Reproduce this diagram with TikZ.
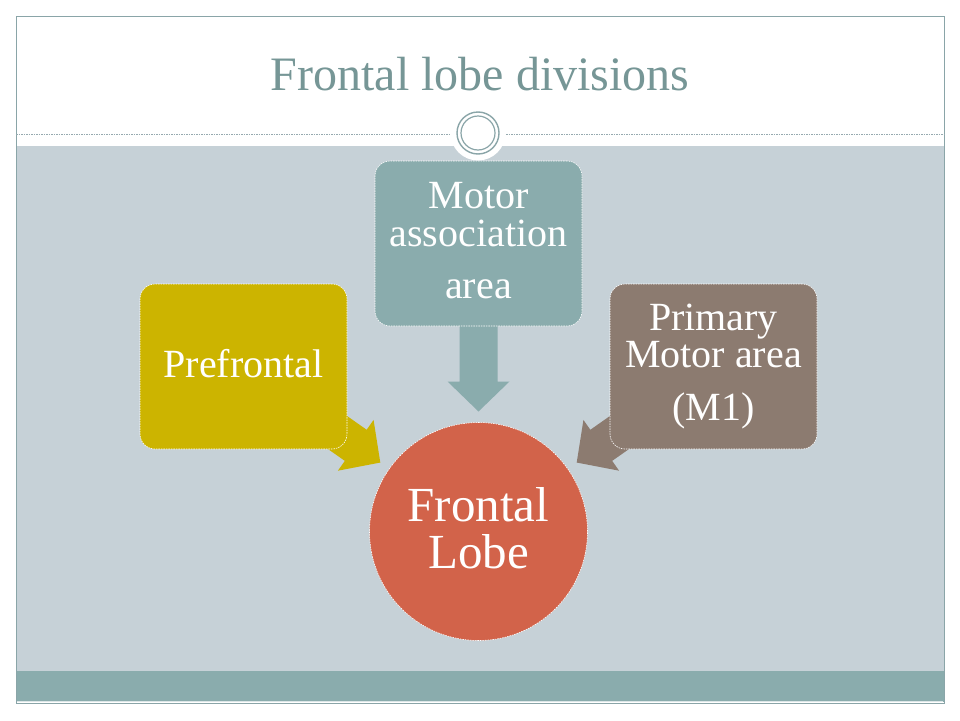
\documentclass[tikz,border=0pt]{standalone}
\usepackage{fontspec}
\setmainfont{Liberation Serif}
\usetikzlibrary{calc}
\definecolor{framec}{RGB}{138,165,168}
\definecolor{bandc}{RGB}{198,209,215}
\definecolor{tealc}{RGB}{138,172,173}
\definecolor{titlec}{RGB}{118,150,150}
\definecolor{mustc}{RGB}{204,180,0}
\definecolor{brownc}{RGB}{140,123,112}
\definecolor{redc}{RGB}{210,99,74}
\definecolor{dashc}{RGB}{150,170,175}
\pgfdeclarelayer{bg}
\pgfdeclarelayer{arr}
\pgfsetlayers{bg,arr,main}
\newcommand\fatarr[3]{%
  \coordinate (#1T) at ($(#2.center)!120pt!(#1.center)$);
  \coordinate (#1H) at ($(#1T)!30pt!(#1.center)$);
  \begin{pgfonlayer}{arr}
  \fill[#3] ($(#1.center)!19pt!90:(#1T)$) -- ($(#1H)!19pt!90:(#1T)$)
    -- ($(#1H)!31pt!90:(#1T)$) -- (#1T) -- ($(#1H)!31pt!-90:(#1T)$)
    -- ($(#1H)!19pt!-90:(#1T)$) -- ($(#1.center)!19pt!-90:(#1T)$) -- cycle;
  \end{pgfonlayer}}
\tikzset{
  boxs/.style={rounded corners=15pt, minimum width=207pt, minimum height=165pt,
    draw=white, dash pattern=on 1.5pt off 1pt, line width=0.6pt, text=white,
    align=center, inner sep=0pt},
  boxfont/.style={font=\fontsize{40}{38}\selectfont},
}
\begin{document}
\begin{tikzpicture}[x=1pt,y=-1pt]
\useasboundingbox (0,0) rectangle (960,720);
\begin{pgfonlayer}{bg}
  \fill[white] (0,0) rectangle (960,720);
  \fill[bandc] (16,146) rectangle (944,671);
  \fill[tealc] (16,671) rectangle (944,702);
  \draw[white!70!tealc, line width=0.8pt] (17,701.5) -- (943,701.5);
  \draw[framec, line width=0.9pt] (16,16) rectangle (944,703);
  \draw[dashc, line width=0.8pt, dash pattern=on 1.5pt off 1pt] (16,134) -- (944,134);
\end{pgfonlayer}
% ornament
\node[circle, fill=white, minimum size=55pt, inner sep=0pt] (orn) at (478,133) {};
\draw[framec, line width=1.4pt] (orn.center) circle (21pt);
\draw[framec, line width=1.2pt] (orn.center) circle (17pt);
% title
\node[anchor=base, text=titlec, font=\fontsize{48}{50}\selectfont, inner sep=0pt] (title) at (480,90) {Frontal lobe divisions};
% boxes
\node[boxs, boxfont, fill=tealc] (mot) at (478.5,243.5) {Motor\\association\\[14pt]area\rule[-5.5pt]{0pt}{0pt}};
\node[boxs, boxfont, fill=mustc] (pf) at (243.5,366.5) {Prefrontal\rule[-6pt]{0pt}{0pt}};
\node[boxs, font=\fontsize{40}{37}\selectfont, fill=brownc] (pm) at (713.5,366.5) {Primary\\Motor area\\[16pt](M1)};
\node[circle, minimum size=218pt, fill=redc, draw=white, dash pattern=on 1.5pt off 1pt, line width=0.6pt,
  text=white, align=center, inner sep=0pt, font=\fontsize{49}{47}\selectfont] (fl) at (478.5,531.5) {Frontal\\Lobe\rule[-8pt]{0pt}{0pt}};
% arrows
\fatarr{mot}{fl}{tealc}
\fatarr{pf}{fl}{mustc}
\fatarr{pm}{fl}{brownc}
\end{tikzpicture}
\end{document}
